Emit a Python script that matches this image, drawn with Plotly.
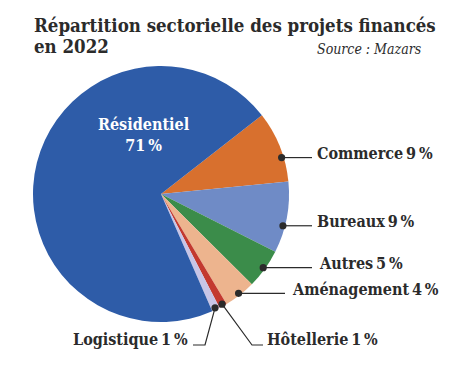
import math
import plotly.graph_objects as go

TS = "\u2009"  # thin space
labels = ["Commerce", "Bureaux", "Autres", "Aménagement", "Hôtellerie", "Logistique", "Résidentiel"]
values = [9, 9, 5, 4, 1, 1, 71]
label_texts = [f"Commerce{TS}9{TS}%", f"Bureaux{TS}9{TS}%", f"Autres{TS}5{TS}%", f"Aménagement{TS}4{TS}%",
               f"Hôtellerie{TS}1{TS}%", f"Logistique{TS}1{TS}%", f"Résidentiel<br>71{TS}%"]
colors = ["#d8702e", "#6f8bc6", "#3b8c4a", "#edb48e", "#c3392f", "#c8c5e6", "#2e5ca8"]
title_lines = ["Répartition sectorielle des projets financés", "en 2022"]
source_text = "Source : Mazars"

WIN_W, WIN_H = 475, 381
OFF = 8  # default page body margin
W, H = WIN_W - 2 * OFF, WIN_H - 2 * OFF
CX, CY, R = 161, 194, 128
ROT = 52

def px(x, y):
    return (x - OFF) / W, 1 - (y - OFF) / H

dom_x0, dom_y1 = px(CX - R, CY - R)
dom_x1, dom_y0 = px(CX + R, CY + R)

fig = go.Figure(go.Pie(
    labels=labels, values=values, sort=False, direction="clockwise", rotation=ROT,
    marker=dict(colors=colors, line=dict(width=0)),
    textinfo="none", hoverinfo="label+percent",
    domain=dict(x=[dom_x0, dom_x1], y=[dom_y0, dom_y1]),
    showlegend=False,
))

font = "DejaVu Serif Condensed, Liberation Serif, serif"
dark = "#2b2b2b"

angle_offset = [5, 4, 0, 0, 0, 0]
label_x = [315, 315, 317, 290, 265, 190]
label_anchor = ["left", "left", "left", "left", "left", "right"]
line_end_x = [312, 312, 312, 285, 263, 193]
elbow = [None, None, None, None, (252, 345), (205, 345)]

shapes = []
annotations = []
total = sum(values)
cum = 0
for i in range(6):
    start = ROT + cum / total * 360
    span = values[i] / total * 360
    cum += values[i]
    ang = math.radians(start + span / 2 + angle_offset[i])
    dx = CX + 126 * math.sin(ang)
    dy = CY - 126 * math.cos(ang)
    if elbow[i] is None:
        pts = [(dx, dy), (line_end_x[i], dy)]
        ty = dy - 4
    else:
        pts = [(dx, dy), elbow[i], (line_end_x[i], elbow[i][1])]
        ty = elbow[i][1] - 6
    path = "M " + " L ".join(f"{px(x, y)[0]},{px(x, y)[1]}" for x, y in pts)
    shapes.append(dict(type="path", xref="paper", yref="paper", path=path,
                       line=dict(color=dark, width=1.2)))
    r = 3.6
    x0, y0 = px(dx - r, dy + r)
    x1, y1 = px(dx + r, dy - r)
    shapes.append(dict(type="circle", xref="paper", yref="paper", x0=x0, y0=y0, x1=x1, y1=y1,
                       fillcolor=dark, line=dict(width=0)))
    ax, ay = px(label_x[i], ty)
    annotations.append(dict(text=label_texts[i], x=ax, y=ay, xref="paper", yref="paper",
                            xanchor=label_anchor[i], yanchor="middle", showarrow=False,
                            font=dict(family=font, size=16, color=dark, weight="bold")))

ax, ay = px(144, 135)
annotations.append(dict(text=label_texts[6], x=ax, y=ay, xref="paper", yref="paper",
                        xanchor="center", yanchor="middle", showarrow=False,
                        font=dict(family=font, size=16, color="white", weight="bold")))

for text, y in zip(title_lines, [25, 46]):
    ax, ay = px(32, y)
    annotations.append(dict(text=text, x=ax, y=ay, xref="paper", yref="paper",
                            xanchor="left", yanchor="middle", showarrow=False,
                            font=dict(family=font, size=18.5, color=dark, weight="bold")))
ax, ay = px(424, 49)
annotations.append(dict(text=f"<i>{source_text}</i>", x=ax, y=ay, xref="paper", yref="paper",
                        xanchor="right", yanchor="middle", showarrow=False,
                        font=dict(family=font, size=14, color=dark)))

fig.update_layout(width=W, height=H, margin=dict(l=0, r=0, t=0, b=0),
                  paper_bgcolor="white", plot_bgcolor="white",
                  shapes=shapes, annotations=annotations)
fig.write_html("out.html")
